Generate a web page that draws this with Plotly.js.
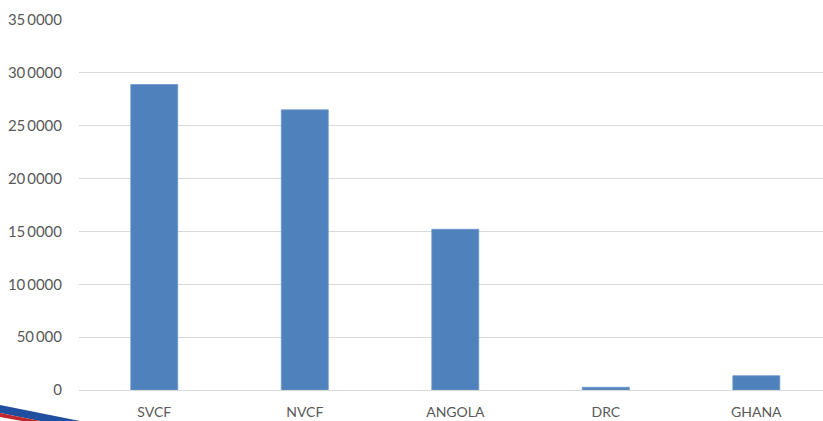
<!DOCTYPE html>
<html><head><meta charset="utf-8">
<script src="https://cdn.plot.ly/plotly-3.0.1.min.js"></script>
<style>html,body{margin:0;padding:0;background:#fff;}#chart{width:823px;height:421px;}</style>
</head><body><div id="chart"></div>
<script>
const categories = ["SVCF", "NVCF", "ANGOLA", "DRC", "GHANA"];
const values = [289000, 265000, 152000, 2600, 13500];
const tickValues = [0, 50000, 100000, 150000, 200000, 250000, 300000, 350000];
const tickLabels = ["0", "50\u2009000", "10\u20090000", "15\u20090000", "20\u20090000", "25\u20090000", "30\u20090000", "35\u20090000"];

const trace = {
  type: "bar", x: categories, y: values,
  marker: {color: "#4f81bd", line: {color: "#6f98cc", width: 0.8}},
  hoverinfo: "x+y"
};
const layout = {
  width: 823, height: 421,
  margin: {l: 79, r: 0, t: 20, b: 31, pad: 0},
  paper_bgcolor: "#fff", plot_bgcolor: "#fff",
  bargap: 0.688,
  showlegend: false,
  font: {family: "Lato, 'Open Sans', sans-serif", size: 14, color: "#595959"},
  xaxis: {type: "category", range: [-0.5, 4.443], showgrid: false, zeroline: false,
    showline: true, linecolor: "#d9d9d9", linewidth: 1, ticks: "", ticklabelstandoff: 9,
    tickfont: {size: 14, color: "#595959"}},
  yaxis: {range: [0, 350000], tickvals: tickValues, ticktext: tickLabels,
    showgrid: true, gridcolor: "#d9d9d9", gridwidth: 1, zeroline: false, showline: false,
    ticks: "", ticklabelstandoff: 16, tickfont: {size: 15, color: "#595959"}},
  shapes: [
    {type: "path", xref: "paper", yref: "paper", layer: "above",
     path: "M -0.1062 -0.0405 L 0.0013 -0.0838 L -0.0524 -0.0838 L -0.1062 -0.0622 Z",
     fillcolor: "#1f4f9e", line: {width: 0}},
    {type: "path", xref: "paper", yref: "paper", layer: "above",
     path: "M -0.1062 -0.0622 L -0.0524 -0.0838 L -0.0766 -0.0838 L -0.1062 -0.0730 Z",
     fillcolor: "#c0282d", line: {width: 0}}
  ]
};
Plotly.newPlot("chart", [trace], layout, {displayModeBar: false, staticPlot: true});
</script>
</body></html>
